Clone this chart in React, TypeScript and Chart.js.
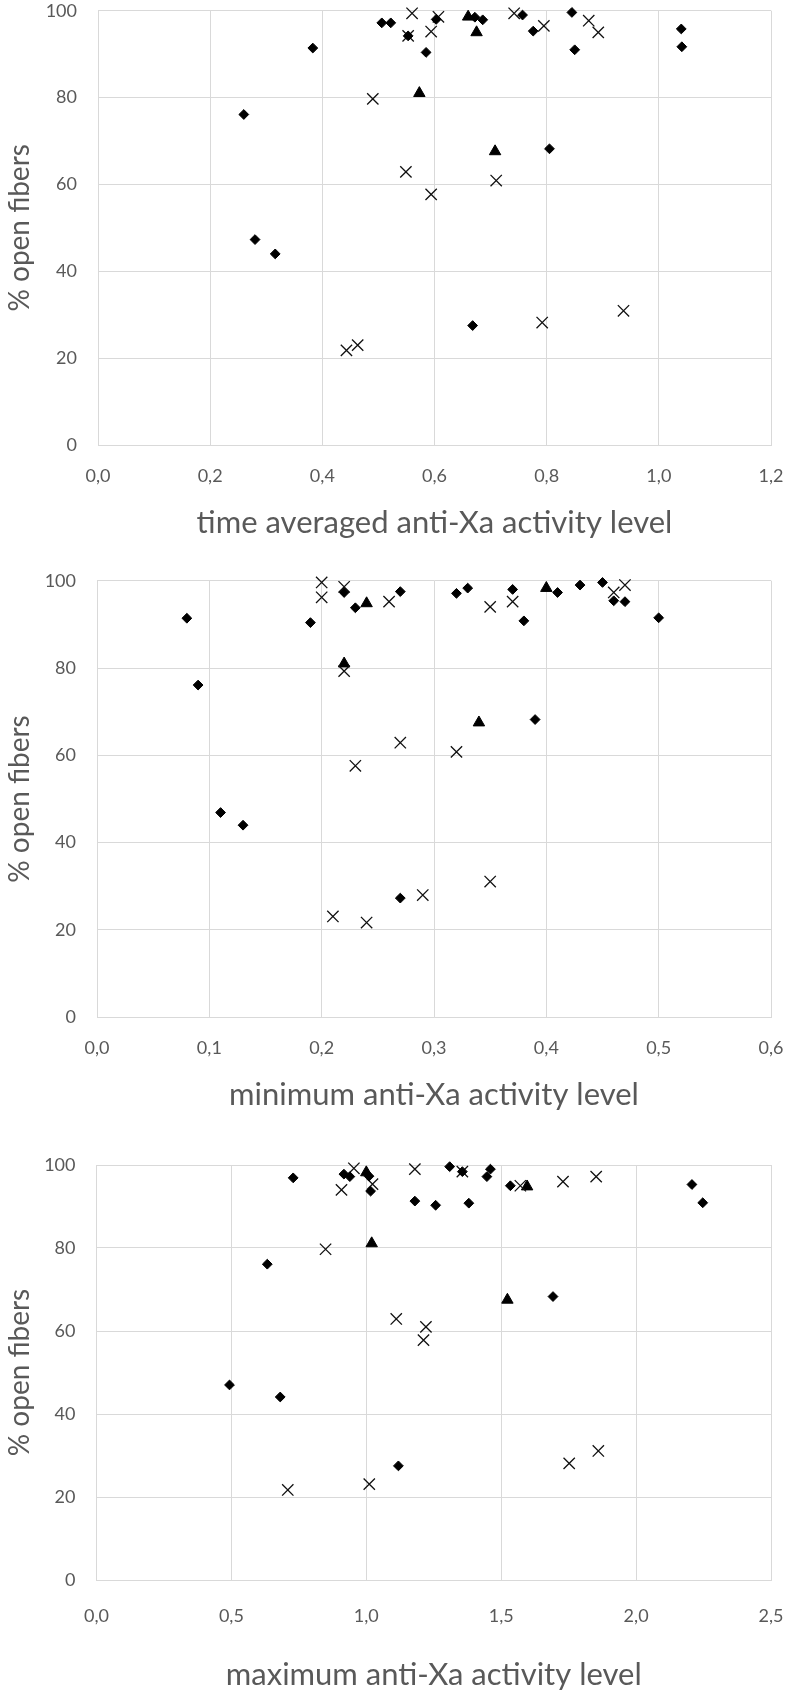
import React, { useEffect, useRef } from 'react';
import { Chart, registerables } from 'chart.js';

Chart.register(...registerables);

type Pt = [number, number];

// ---- time averaged anti-Xa activity level ----
const avgDiamonds: Pt[] = [
  [0.383, 91.4], [0.26, 76.1], [0.28, 47.3], [0.316, 44.0], [0.506, 97.2], [0.522, 97.2],
  [0.553, 94.2], [0.585, 90.4], [0.603, 98.0], [0.668, 27.5], [0.672, 98.5], [0.686, 97.9],
  [0.757, 99.0], [0.776, 95.3], [0.805, 68.2], [0.845, 99.6], [0.85, 91.0], [1.04, 95.8], [1.041, 91.7],
];
const avgCrosses: Pt[] = [
  [0.56, 99.4], [0.553, 94.2], [0.594, 95.2], [0.607, 98.6], [0.49, 79.7], [0.549, 62.9],
  [0.594, 57.7], [0.71, 60.9], [0.443, 21.8], [0.463, 23.0], [0.792, 28.2], [0.937, 30.9],
  [0.742, 99.4], [0.795, 96.5], [0.875, 97.7], [0.892, 95.0],
];
const avgTriangles: Pt[] = [[0.66, 98.6], [0.675, 95.0], [0.573, 81.0], [0.708, 67.6]];

// ---- minimum anti-Xa activity level ----
const minDiamonds: Pt[] = [
  [0.08, 91.4], [0.09, 76.1], [0.11, 46.9], [0.13, 44.0], [0.19, 90.4], [0.22, 97.3], [0.23, 93.8],
  [0.27, 97.5], [0.27, 27.3], [0.32, 97.1], [0.33, 98.3], [0.37, 98.0], [0.38, 90.8], [0.39, 68.2],
  [0.41, 97.3], [0.43, 99.0], [0.45, 99.6], [0.46, 95.4], [0.47, 95.2], [0.5, 91.5],
];
const minCrosses: Pt[] = [
  [0.2, 99.6], [0.2, 96.2], [0.22, 98.6], [0.22, 79.3], [0.26, 95.2], [0.35, 94.0], [0.37, 95.2],
  [0.46, 97.3], [0.47, 99.0], [0.27, 62.9], [0.23, 57.6], [0.32, 60.8], [0.21, 23.1], [0.24, 21.7],
  [0.29, 28.0], [0.35, 31.1],
];
const minTriangles: Pt[] = [[0.22, 81.0], [0.24, 94.8], [0.34, 67.5], [0.4, 98.3]];

// ---- maximum anti-Xa activity level ----
const maxDiamonds: Pt[] = [
  [0.729, 96.9], [0.917, 97.8], [0.939, 97.2], [1.016, 93.7], [1.01, 97.3], [1.309, 99.6],
  [1.356, 98.4], [1.46, 99.0], [1.447, 97.2], [1.18, 91.3], [1.257, 90.3], [1.38, 90.8],
  [1.534, 95.0], [2.207, 95.3], [2.247, 90.9], [0.633, 76.1], [0.493, 47.0], [0.681, 44.1],
  [1.119, 27.5], [1.692, 68.3],
];
const maxCrosses: Pt[] = [
  [0.954, 99.2], [0.908, 94.0], [1.023, 95.4], [1.18, 99.0], [1.356, 98.4], [1.571, 95.0],
  [1.729, 96.0], [1.852, 97.2], [0.849, 79.7], [1.111, 62.9], [1.221, 61.0], [1.212, 57.8],
  [0.709, 21.7], [1.011, 23.1], [1.752, 28.1], [1.86, 31.1],
];
const maxTriangles: Pt[] = [[1.0, 98.2], [1.596, 94.8], [1.02, 81.1], [1.523, 67.5]];

const yTitle = '% open fibers';
const xTitles = [
  'time averaged anti-Xa activity level',
  'minimum anti-Xa activity level',
  'maximum anti-Xa activity level',
];
const xMaxes = [1.2, 0.6, 2.5];
const xSteps = [0.2, 0.1, 0.5];
const yTicks = { min: 0, max: 100, step: 20 };

const GRID = '#d9d9d9';
const TEXT = '#595959';
const FONT = 'Lato, "Open Sans", sans-serif';

const fmt = (v: number) => Number(v).toFixed(1).replace('.', ',');

interface PanelProps {
  height: number;
  padTop: number;
  plotLeft: number;
  axisHeight: number;
  tickPad: number;
  titlePadBottom: number;
  xMax: number;
  xStep: number;
  diamonds: Pt[];
  crosses: Pt[];
  triangles: Pt[];
  xTitle: string;
}

function ScatterPanel(p: PanelProps) {
  const ref = useRef<HTMLCanvasElement | null>(null);
  useEffect(() => {
    const toData = (a: Pt[]) => a.map(([x, y]) => ({ x, y }));
    const chart = new Chart(ref.current as HTMLCanvasElement, {
      type: 'scatter',
      data: {
        datasets: [
          {
            label: 'diamond',
            data: toData(p.diamonds),
            pointStyle: 'rectRot',
            pointRadius: 4.9,
            backgroundColor: '#000',
            borderColor: '#000',
            borderWidth: 1,
            clip: false,
          },
          {
            label: 'cross',
            data: toData(p.crosses),
            pointStyle: 'crossRot',
            pointRadius: 8,
            backgroundColor: '#000',
            borderColor: '#111',
            borderWidth: 1.3,
            clip: false,
          },
          {
            label: 'triangle',
            data: toData(p.triangles),
            pointStyle: 'triangle',
            pointRadius: 6.6,
            backgroundColor: '#000',
            borderColor: '#000',
            borderWidth: 1,
            clip: false,
          },
        ],
      },
      options: {
        animation: false,
        responsive: false,
        devicePixelRatio: 1,
        layout: { autoPadding: false, padding: { top: p.padTop, right: 16, left: 0, bottom: 0 } },
        plugins: { legend: { display: false }, tooltip: { enabled: false } },
        scales: {
          x: {
            type: 'linear',
            min: 0,
            max: p.xMax,
            afterFit: (s: any) => {
              s.height = p.axisHeight;
              s.paddingLeft = 0;
              s.paddingRight = 0;
            },
            grid: { color: GRID, lineWidth: 1, drawTicks: false },
            border: { color: GRID, width: 1 },
            ticks: {
              stepSize: p.xStep,
              padding: p.tickPad,
              color: TEXT,
              font: { family: FONT, size: 18 },
              maxRotation: 0,
              autoSkip: false,
              callback: (v: any) => fmt(v),
            },
            title: {
              display: true,
              text: p.xTitle,
              color: TEXT,
              font: { family: FONT, size: 31 },
              padding: { top: 0, bottom: p.titlePadBottom },
            },
          },
          y: {
            type: 'linear',
            min: yTicks.min,
            max: yTicks.max,
            afterFit: (s: any) => {
              s.width = p.plotLeft;
              s.paddingTop = 0;
              s.paddingBottom = 0;
            },
            grid: { color: GRID, lineWidth: 1, drawTicks: false },
            border: { color: GRID, width: 1 },
            ticks: {
              stepSize: yTicks.step,
              padding: 21,
              color: TEXT,
              font: { family: FONT, size: 18 },
            },
            title: {
              display: true,
              text: yTitle,
              color: TEXT,
              font: { family: FONT, size: 28 },
              padding: { top: 3, bottom: 0 },
            },
          },
        },
      },
    } as any);
    return () => chart.destroy();
  }, []);
  return <canvas ref={ref} width={787} height={p.height} style={{ display: 'block' }} />;
}

export default function App() {
  useEffect(() => {
    document.body.style.margin = '0';
  }, []);
  return (
    <div style={{ width: 787, height: 1699, background: '#fff' }}>
      <ScatterPanel
        height={560}
        padTop={10.7}
        plotLeft={98}
        axisHeight={115}
        tickPad={20}
        titlePadBottom={18.4}
        xMax={xMaxes[0]}
        xStep={xSteps[0]}
        diamonds={avgDiamonds}
        crosses={avgCrosses}
        triangles={avgTriangles}
        xTitle={xTitles[0]}
      />
      <ScatterPanel
        height={572}
        padTop={20.7}
        plotLeft={97}
        axisHeight={114.7}
        tickPad={20}
        titlePadBottom={18.4}
        xMax={xMaxes[1]}
        xStep={xSteps[1]}
        diamonds={minDiamonds}
        crosses={minCrosses}
        triangles={minTriangles}
        xTitle={xTitles[1]}
      />
      <ScatterPanel
        height={567}
        padTop={33}
        plotLeft={96.5}
        axisHeight={119}
        tickPad={25}
        titlePadBottom={5.4}
        xMax={xMaxes[2]}
        xStep={xSteps[2]}
        diamonds={maxDiamonds}
        crosses={maxCrosses}
        triangles={maxTriangles}
        xTitle={xTitles[2]}
      />
    </div>
  );
}
